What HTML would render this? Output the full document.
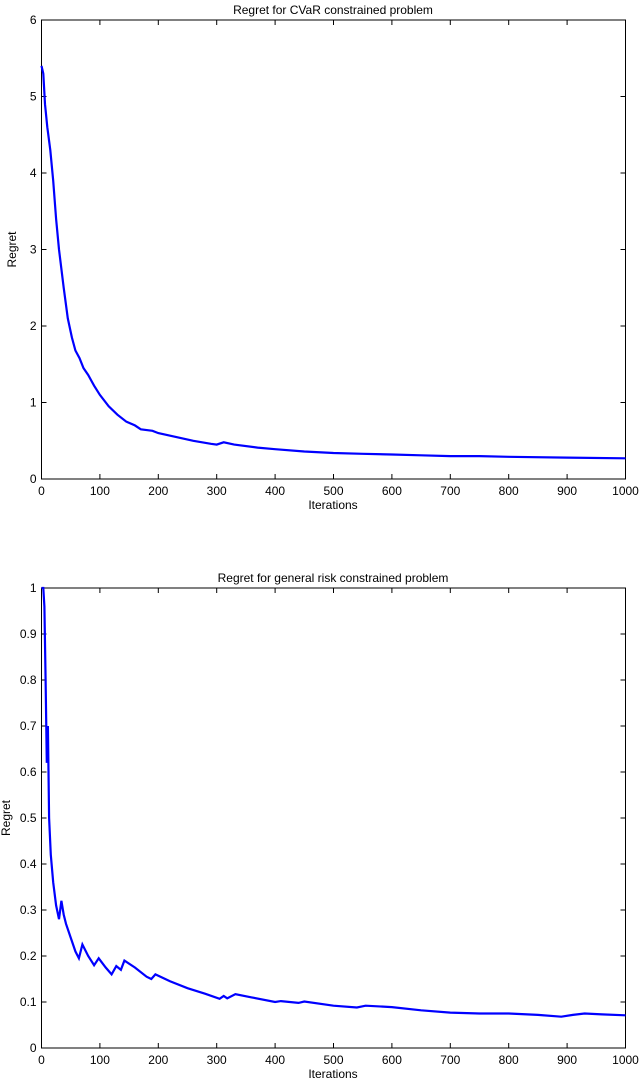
<!DOCTYPE html>
<html><head><style>
body{margin:0;background:#fff;}
svg text{font-family:"Liberation Sans",Arial,sans-serif;font-size:12px;fill:#000;}
</style></head><body>
<svg id="s" width="640" height="1080" xmlns="http://www.w3.org/2000/svg">
<rect width="640" height="1080" fill="#fff"/>
<g id="g"></g>
</svg>
<script>
var g=document.getElementById('g'),h='';
var X0=41.5,XS=0.584;
function ax(top,bot,ymax,ystep,nd,title,data,lx){
  var ys=(bot-top)/ymax;
  h+='<rect x="'+X0+'" y="'+top+'" width="584" height="'+(bot-top)+'" fill="none" stroke="#000" stroke-width="1"/>';
  for(var i=0;i<=10;i++){var x=X0+i*58.4;
    h+='<line x1="'+x+'" y1="'+bot+'" x2="'+x+'" y2="'+(bot-5)+'" stroke="#000"/><line x1="'+x+'" y1="'+top+'" x2="'+x+'" y2="'+(top+5)+'" stroke="#000"/>';
    h+='<text x="'+x+'" y="'+(bot+16)+'" text-anchor="middle">'+(i*100)+'</text>';}
  var n=Math.round(ymax/ystep);
  for(var j=0;j<=n;j++){var v=j*ystep,y=bot-v*ys;
    h+='<line x1="'+X0+'" y1="'+y+'" x2="'+(X0+5)+'" y2="'+y+'" stroke="#000"/><line x1="'+(X0+584)+'" y1="'+y+'" x2="'+(X0+579)+'" y2="'+y+'" stroke="#000"/>';
    var t=nd?(v.toFixed(1).replace(/\.0$/,'')):String(v);
    h+='<text x="'+(X0-5)+'" y="'+(y+4)+'" text-anchor="end">'+t+'</text>';}
  h+='<text x="333" y="'+(top-6)+'" text-anchor="middle">'+title+'</text>';
  h+='<text x="333" y="'+(bot+30)+'" text-anchor="middle">Iterations</text>';
  var cy=(top+bot)/2;
  h+='<text x="'+lx+'" y="'+cy+'" text-anchor="middle" transform="rotate(-90 '+lx+' '+cy+')">Regret</text>';
  var p=data.map(function(d){return (X0+d[0]*XS).toFixed(1)+','+(bot-d[1]*ys).toFixed(1)}).join(' ');
  h+='<polyline points="'+p+'" fill="none" stroke="#0000ff" stroke-width="2.2"/>';
}
ax(20,479,6,1,false,'Regret for CVaR constrained problem',
[[0,5.4],[3,5.3],[6,4.9],[10,4.6],[15,4.3],[20,3.9],[25,3.4],[30,3.0],[38,2.5],[45,2.1],[52,1.85],[58,1.68],[65,1.58],[72,1.45],[80,1.36],[90,1.22],[100,1.1],[115,0.95],[130,0.84],[145,0.75],[160,0.7],[170,0.65],[190,0.63],[200,0.6],[230,0.55],[260,0.5],[290,0.46],[300,0.45],[312,0.48],[330,0.45],[370,0.41],[400,0.39],[450,0.36],[500,0.34],[550,0.33],[600,0.32],[650,0.31],[700,0.3],[750,0.3],[800,0.29],[900,0.28],[1000,0.27]],16);
ax(588,1048,1,0.1,true,'Regret for general risk constrained problem',
[[0,1.0],[3,1.0],[5,0.96],[7,0.8],[9,0.62],[11,0.7],[13,0.5],[16,0.42],[20,0.36],[25,0.31],[30,0.28],[34,0.32],[38,0.29],[42,0.27],[50,0.24],[58,0.21],[64,0.195],[70,0.225],[80,0.2],[90,0.18],[98,0.195],[110,0.175],[120,0.16],[128,0.178],[136,0.17],[142,0.19],[160,0.175],[180,0.155],[188,0.15],[195,0.16],[220,0.145],[250,0.13],[280,0.118],[305,0.107],[312,0.113],[318,0.108],[332,0.117],[360,0.11],[400,0.1],[410,0.102],[440,0.098],[450,0.101],[500,0.092],[540,0.088],[555,0.092],[600,0.089],[650,0.082],[700,0.077],[750,0.075],[800,0.075],[850,0.072],[890,0.068],[910,0.072],[930,0.075],[960,0.073],[1000,0.071]],10);
g.innerHTML=h;
</script>
</body></html>
